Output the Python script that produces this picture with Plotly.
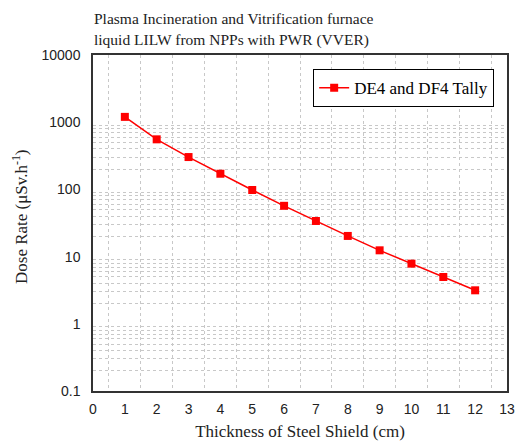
import plotly.graph_objects as go

thickness_cm = [1, 2, 3, 4, 5, 6, 7, 8, 9, 10, 11, 12]
dose_rate = [1200, 556, 303, 171, 98, 57, 33.9, 20.3, 12.4, 7.85, 4.97, 3.15]
series_name = "DE4 and DF4 Tally"
x_ticks = list(range(0, 14))
y_ticks = [0.1, 1, 10, 100, 1000, 10000]
y_tick_labels = ["0.1", "1", "10", "100", "1000", "10000"]
x_grid = [i + 0.5 for i in range(13)]
y_grid = [m * 10 ** k for k in range(-1, 3) for m in range(2, 10)]

serif = "Liberation Serif, Times New Roman, serif"
sans = "Liberation Sans, Arial, sans-serif"

fig = go.Figure()
fig.add_trace(go.Scatter(
    x=thickness_cm, y=dose_rate, name=series_name, mode="lines+markers",
    line=dict(color="#ff0000", width=1.5),
    marker=dict(symbol="square", size=8, color="#ff0000"),
    showlegend=True,
))

grid_style = dict(showgrid=True, gridcolor="#c8c8c8", griddash="dot", gridwidth=1, ticklen=0)

fig.update_layout(
    width=516, height=441,
    margin=dict(l=93, r=9, t=55, b=50),
    paper_bgcolor="white", plot_bgcolor="white",
    showlegend=True,
    legend=dict(x=0.969, y=0.958, xanchor="right", yanchor="top",
                bordercolor="black", borderwidth=1, bgcolor="white",
                tracegroupgap=0, itemwidth=30,
                font=dict(family=serif, size=17, color="black")),
    xaxis=dict(range=[0, 13], tickmode="array", tickvals=x_ticks, automargin=False,
               showgrid=False, zeroline=False, showline=True, mirror=True,
               linecolor="#333333", linewidth=1.5, ticks="", ticklabelstandoff=4,
               tickfont=dict(family=sans, size=14, color="#222222"),
               minor=dict(tickmode="array", tickvals=x_grid, **grid_style),
               title=dict(text="Thickness of Steel Shield (cm)", standoff=10,
                          font=dict(family=serif, size=17, color="#222222"))),
    yaxis=dict(type="log", range=[-1, 4], tickmode="array", tickvals=y_ticks,
               ticktext=y_tick_labels, showgrid=False, zeroline=False, automargin=False,
               showline=True, mirror=True, linecolor="#333333", linewidth=1.5,
               ticks="", ticklabelstandoff=8,
               tickfont=dict(family=sans, size=14, color="#222222"),
               minor=dict(tickmode="array", tickvals=y_grid, **grid_style)),
)

ph = 336.0
pw = 414.0
fig.add_annotation(text="Plasma Incineration and Vitrification furnace",
                   xref="paper", yref="paper", x=-0.002, xanchor="left",
                   y=(391 - 19) / ph, yanchor="middle", showarrow=False,
                   font=dict(family=serif, size=15.5, color="#222222"))
fig.add_annotation(text="liquid LILW from NPPs with PWR (VVER)",
                   xref="paper", yref="paper", x=-0.002, xanchor="left",
                   y=(391 - 40) / ph, yanchor="middle", showarrow=False,
                   font=dict(family=serif, size=15.5, color="#222222"))
fig.add_annotation(text="Dose Rate (μSv.h<sup>-1</sup>)",
                   xref="paper", yref="paper", x=(20 - 93) / pw, xanchor="center",
                   y=(391 - 217) / ph, yanchor="middle", textangle=-90, showarrow=False,
                   font=dict(family=serif, size=17, color="#222222"))

fig.write_html("out.html")
